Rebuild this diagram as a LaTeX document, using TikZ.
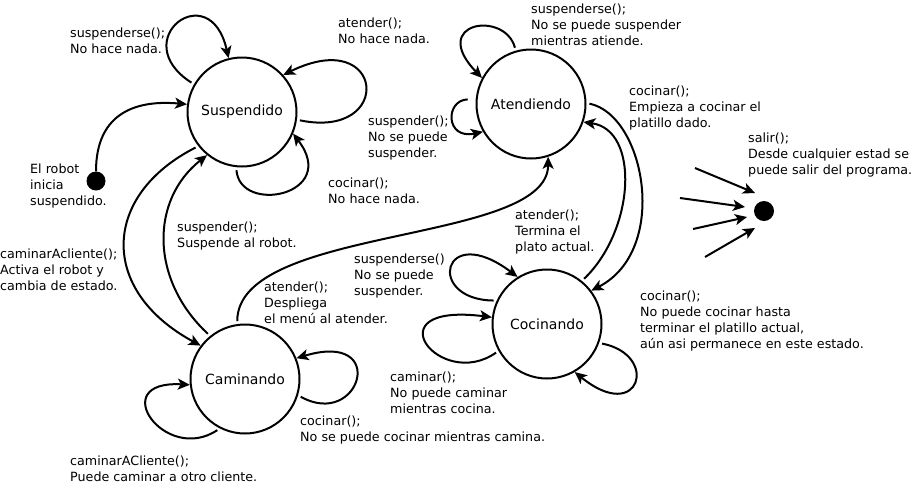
\documentclass[tikz,border=0pt]{standalone}
\usepackage{fontspec}
\setmainfont{DejaVu Sans}
\usetikzlibrary{arrows.meta}
\begin{document}
\begin{tikzpicture}[x=1pt,y=-1pt,
  state/.style={circle,draw,line width=2pt,minimum size=109pt,inner sep=0pt,font=\fontsize{14}{16}\selectfont},
  lbl/.style={anchor=west,align=left,inner sep=0pt,font=\fontsize{12.7}{16}\selectfont},
  tr/.style={line width=2pt,-{Stealth[length=12pt,width=11pt,inset=3pt]}},
  gap/.style={shorten <=3pt},
  dotst/.style={circle,fill,inner sep=0pt,minimum size=19pt}]
\useasboundingbox (0,0) rectangle (913,483);
% states
\node[state] (S) at (242,112) {Suspendido};
\node[state] (A) at (531,104) {Atendiendo};
\node[state] (C) at (245,379) {Caminando};
\node[state] (Co) at (547,324) {Cocinando};
\node[dotst] (D0) at (96,181) {};
\node[dotst,minimum size=20pt] (F) at (764,211) {};
% labels
\node[lbl] (l1) at (70,41) {suspenderse();\\No hace nada.};
\node[lbl] (l2) at (338,30.5) {atender();\\No hace nada.};
\node[lbl] (l3) at (368,137.5) {suspender();\\No se puede\\suspender.};
\node[lbl] (l4) at (328,190.5) {cocinar();\\No hace nada.};
\node[lbl] (l5) at (30,185.5) {El robot\\inicia\\suspendido.};
\node[lbl] (l6) at (177,236) {suspender();\\Suspende al robot.};
\node[lbl] (l7) at (531,24.5) {suspenderse();\\No se puede suspender\\mientras atiende.};
\node[lbl] (l8) at (629,107.5) {cocinar();\\Empieza a cocinar el\\platillo dado.};
\node[lbl] (l9) at (748,155) {salir();\\Desde cualquier estad se\\puede salir del programa.};
\node[lbl] (l10) at (0,269.5) {caminarAcliente();\\Activa el robot y\\cambia de estado.};
\node[lbl] (l11) at (515,231.5) {atender();\\Termina el\\plato actual.};
\node[lbl] (l12) at (354,275.5) {suspenderse()\\No se puede\\suspender.};
\node[lbl] (l13) at (264,303) {atender();\\Despliega\\el menú al atender.};
\node[lbl] (l14) at (640,321) {cocinar();\\No puede cocinar hasta\\terminar el platillo actual,\\aún asi permanece en este estado.};
\node[lbl] (l15) at (390,393) {caminar();\\No puede caminar\\mientras cocina.};
\node[lbl] (l16) at (300,429.5) {cocinar();\\No se puede cocinar mientras camina.};
\node[lbl] (l17) at (70,468.5) {caminarACliente();\\Puede caminar a otro cliente.};
% Suspendido
\draw[tr] (D0.north) .. controls (96,110) and (140,100) .. (S.172);
\draw[tr,gap] (S.150) .. controls (125,40) and (210,-25) .. (S.104);
\draw[tr,gap] (S.-8) .. controls (395,140) and (385,25) .. (S.42);
\draw[tr,gap] (S.264) .. controls (240,215) and (340,195) .. (S.-23);
\draw[tr,gap] (S.218) .. controls (102,195) and (98,290) .. (C.143);
\draw[tr,gap] (C.129) .. controls (150,280) and (150,200) .. (S.231);
% Caminando
\draw[tr,gap] (C.98) .. controls (237,225) and (548,245) .. (A.-72);
\draw[tr,gap] (C.-17) .. controls (360,430) and (390,330) .. (C.22);
\draw[tr,gap] (C.243) .. controls (165,465) and (105,380) .. (C.186);
% Atendiendo
\draw[tr,gap] (A.106) .. controls (505,10) and (428,22) .. (A.152);
\draw[tr,shorten <=8pt] (A.175) .. controls (445,100) and (445,140) .. (A.210);
\draw[tr,gap] (A.1) .. controls (645,115) and (670,250) .. (Co.37);
\draw[tr,gap] (Co.51) .. controls (635,230) and (640,130) .. (A.-19);
% Cocinando
\draw[tr,gap] (Co.155) .. controls (425,300) and (442,220) .. (Co.122);
\draw[tr,gap] (Co.209) .. controls (440,392) and (370,302) .. (Co.173);
\draw[tr,gap] (Co.-20) .. controls (660,355) and (640,425) .. (Co.-60);
% exit arrows
\coordinate (e1) at (695,168); \coordinate (t1) at (755,193);
\coordinate (e2) at (680,198); \coordinate (t2) at (745,207);
\coordinate (e3) at (693,229); \coordinate (t3) at (747,217);
\coordinate (e4) at (705,257); \coordinate (t4) at (755,228);
\draw[tr] (e1) -- (t1);
\draw[tr] (e2) -- (t2);
\draw[tr] (e3) -- (t3);
\draw[tr] (e4) -- (t4);
\end{tikzpicture}
\end{document}
